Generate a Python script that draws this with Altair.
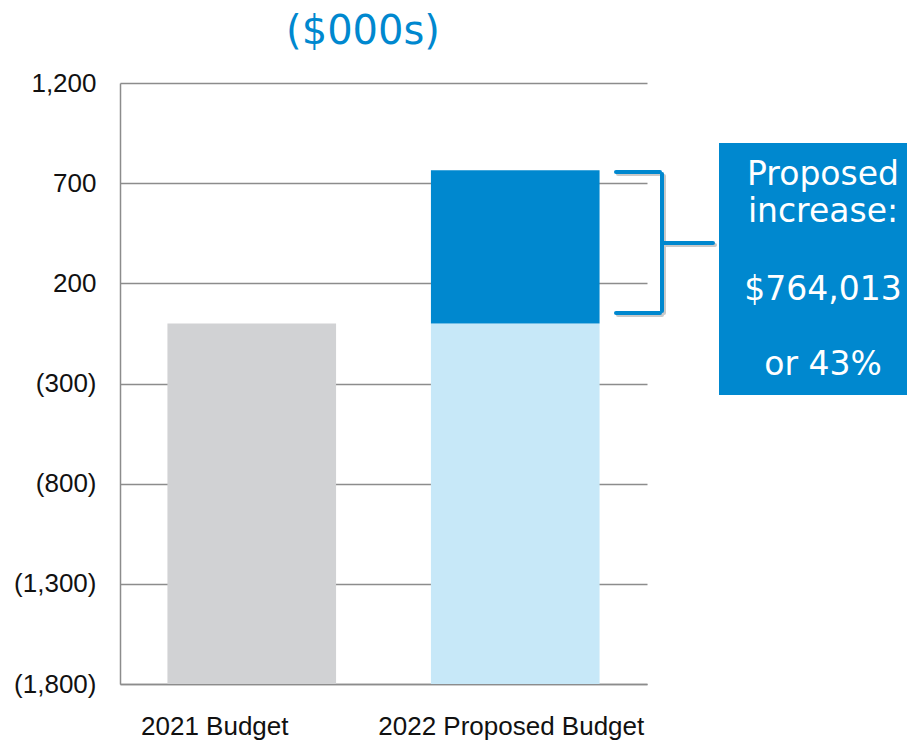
import altair as alt
import pandas as pd

# ---- data ----
categories = ["2021 Budget", "2022 Proposed Budget", "2022 Proposed Budget"]
segments = ["2021 Budget", "2022 Base", "Proposed increase"]
seg_start = [-1800, -1800, 0]
seg_end = [0, 0, 764]
seg_colors = ["#D1D2D4", "#C7E8F8", "#0088CF"]
y_ticks = [-1800, -1300, -800, -300, 200, 700, 1200]
title_text = "($000s)"
anno_lines = ["Proposed", "increase:", "$764,013", "or 43%"]

df = pd.DataFrame({"category": categories, "segment": segments,
                   "start": seg_start, "end": seg_end})
one = pd.DataFrame({"k": [0]})

BLUE = "#0088CF"
GRID = "#8c8c8c"

bars = alt.Chart(df).mark_bar().encode(
    x=alt.X("category:N", sort=["2021 Budget", "2022 Proposed Budget"],
            scale=alt.Scale(paddingInner=0.36, paddingOuter=0.18),
            axis=alt.Axis(title=None, labelAngle=0, labelFont="Liberation Sans",
                          labelFontSize=26, labelColor="#111111", labelPadding=29,
                          labelLimit=0,
                          labelOffset={"expr": "datum.value == '2021 Budget' ? -37 : -4"},
                          ticks=False, domain=True, domainColor=GRID,
                          domainWidth=1.5, grid=False)),
    y=alt.Y("start:Q", scale=alt.Scale(domain=[-1800, 1200], nice=False, zero=False),
            axis=alt.Axis(values=y_ticks, title=None,
                          labelExpr="datum.value < 0 ? '(' + format(-datum.value, ',') + ')' : format(datum.value, ',')",
                          labelFont="Liberation Sans", labelFontSize=26,
                          labelColor="#111111", labelPadding=24, ticks=False,
                          domain=True, domainColor=GRID, domainWidth=1.5,
                          grid=True, gridColor=GRID, gridWidth=1.5)),
    y2="end:Q",
    color=alt.Color("segment:N", scale=alt.Scale(domain=segments, range=seg_colors),
                    legend=None),
)

title = alt.Chart(one).mark_text(
    text=title_text, font="DejaVu Sans", fontSize=40, color=BLUE,
    align="center", baseline="alphabetic"
).encode(x=alt.value(243), y=alt.value(-39))

box = alt.Chart(one).mark_rect(color=BLUE).encode(
    x=alt.value(599), x2=alt.value(790), y=alt.value(60), y2=alt.value(312))

line_y = [102, 139, 217, 292]
box_text = [
    alt.Chart(one).mark_text(
        text=t, font="DejaVu Sans", fontSize=33, color="white",
        align="center", baseline="alphabetic"
    ).encode(x=alt.value(703), y=alt.value(yy))
    for t, yy in zip(anno_lines, line_y)
]

def rule(x1, x2, y1, y2, color, off=0):
    enc = dict(x=alt.value(x1 + off), y=alt.value(y1 + off))
    if x2 is not None:
        enc["x2"] = alt.value(x2 + off)
    if y2 is not None:
        enc["y2"] = alt.value(y2 + off)
    return alt.Chart(one).mark_rule(color=color, strokeWidth=4,
                                    strokeCap="round").encode(**enc)

segs = [(496, 540, 89, None), (542, None, 91, 228), (496, 540, 230, None),
        (542, 593, 160, None)]
shadow = [rule(a, b, c, d, "#c9c9c9", 2) for a, b, c, d in segs]
bracket = [rule(a, b, c, d, BLUE) for a, b, c, d in segs]

chart = alt.layer(bars, title, box, *box_text, *shadow, *bracket).properties(
    width=527, height=601,
    autosize=alt.AutoSizeParams(type="none"),
    padding={"left": 112, "top": 75, "right": 260, "bottom": 56},
).configure_view(stroke=None)

chart.save("out.html", embed_options={"renderer": "svg", "actions": False})
